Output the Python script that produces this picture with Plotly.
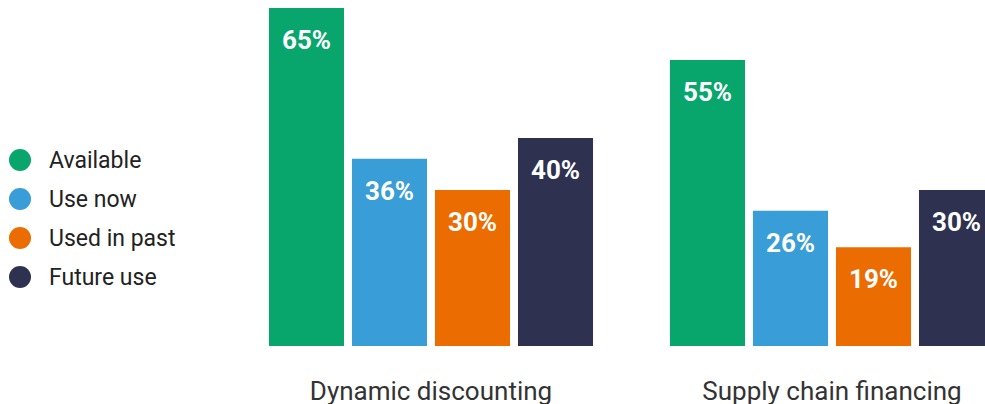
import plotly.graph_objects as go

categories = ["Dynamic discounting", "Supply chain financing"]
series_names = ["Available", "Use now", "Used in past", "Future use"]
available = [65, 55]
use_now = [36, 26]
used_in_past = [30, 19]
future_use = [40, 30]
colors = ["#08A66C", "#399DD8", "#EB6C00", "#2E3250"]

values = [available, use_now, used_in_past, future_use]

fig = go.Figure()
for name, vals, col in zip(series_names, values, colors):
    fig.add_trace(go.Bar(
        x=categories, y=vals, name=name, marker=dict(color=col, line=dict(width=0)),
        showlegend=False, hoverinfo="skip",
    ))

W, H = 985, 404
ml, mr, mt, mb = 230, 0, 8, 58
pw = W - ml - mr
unit_px = 401.0
left_val = -(431 - ml) / unit_px
right_val = left_val + pw / unit_px

# value labels inside bar tops
n = len(series_names)
slot_px = 83
for i, (vals, col) in enumerate(zip(values, colors)):
    for c, v in zip(categories, vals):
        fig.add_annotation(
            x=c, y=v, xref="x", yref="y", text=f"<b>{v}%</b>",
            showarrow=False, xshift=(i - (n - 1) / 2) * slot_px, yshift=-32,
            yanchor="middle", font=dict(family="Roboto", size=26, color="white"),
        )

# manual legend with circles
leg_y0 = 160
leg_step = 39
for i, (name, col) in enumerate(zip(series_names, colors)):
    py = leg_y0 + i * leg_step
    yp = 1 - (py - mt) / (H - mt - mb)
    xp = (20 - ml) / pw
    fig.add_shape(type="circle", xref="paper", yref="paper",
                  xsizemode="pixel", ysizemode="pixel",
                  xanchor=xp, yanchor=yp, x0=-11, x1=11, y0=-11, y1=11,
                  fillcolor=col, line=dict(width=0))
    fig.add_annotation(x=(47 - ml) / pw, y=yp, xref="paper", yref="paper",
                       text=name, showarrow=False, xanchor="left", yanchor="middle",
                       font=dict(family="Roboto", size=23, color="#222222"))

fig.update_layout(
    width=W, height=H,
    margin=dict(l=ml, r=mr, t=mt, b=mb, pad=0, autoexpand=False),
    barmode="group", bargap=0.172, bargroupgap=0.096,
    plot_bgcolor="white", paper_bgcolor="white",
    xaxis=dict(range=[left_val, right_val], showgrid=False, zeroline=False,
               showline=False, ticks="outside", ticklen=22, tickcolor="rgba(0,0,0,0)",
               automargin=False,
               tickfont=dict(family="Roboto", size=26, color="#333333")),
    yaxis=dict(range=[0, 65], visible=False, showgrid=False, zeroline=False,
               automargin=False),
    showlegend=False,
)

fig.write_html("out.html")
